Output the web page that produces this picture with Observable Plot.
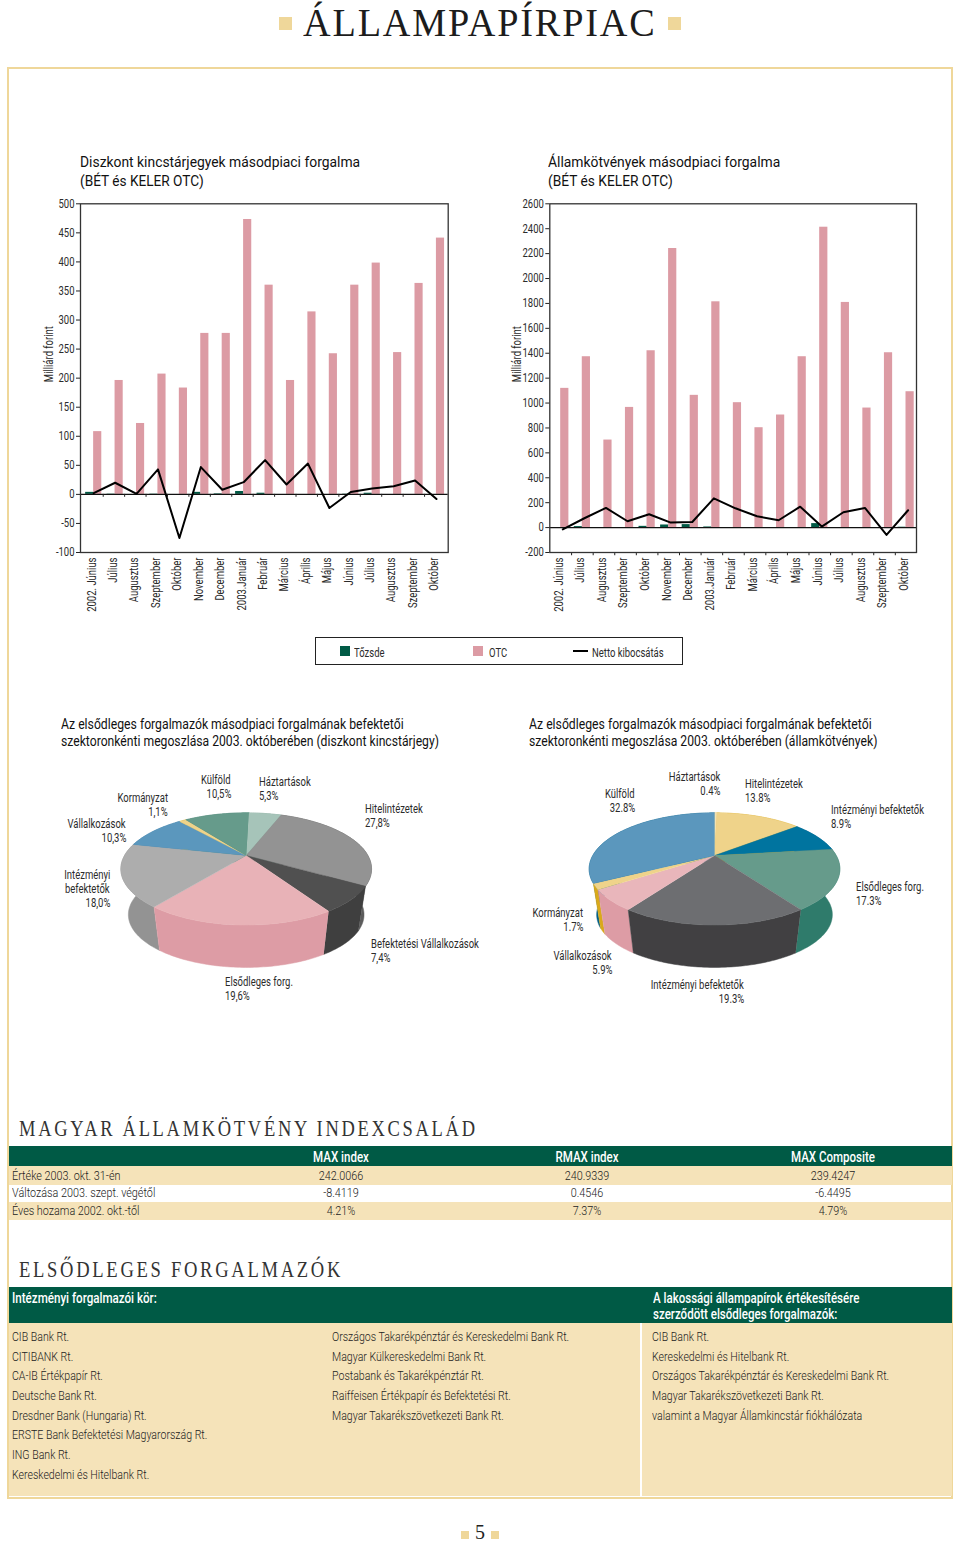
<!DOCTYPE html>
<html><head><meta charset="utf-8">
<script src="https://cdn.jsdelivr.net/npm/d3@7"></script>
<script src="https://cdn.jsdelivr.net/npm/@observablehq/plot@0.6"></script>
<style>
html,body{margin:0;padding:0;background:#fff}
#page{position:relative;width:960px;height:1544px;overflow:hidden;font-family:Roboto,sans-serif;color:#2b2b2b}
#page>*{position:absolute}
.t{white-space:nowrap}
</style></head><body><div id="page"></div>
<script>
// ---------- data ----------
const months=["2002. Június","Július","Augusztus","Szeptember","Október","November","December","2003.Január","Február","Március","Április","Május","Június","Július","Augusztus","Szeptember","Október"];
const dkjOtc=[108,196,122,207,183,277,277,473,360,196,314,242,360,398,244,363,441];
const dkjTozsde=[3.5,.5,0,.5,0,3.5,1,5,2,0,0,0,.5,2,0,0,0];
const dkjNet=[2,20,1,43,-75,47,8,21,59,17,53,-23.5,4,10,14,24,-8];
const bondOtc=[1118,1372,703,965,1420,2241,1062,1813,1003,802,904,1372,2412,1808,960,1404,1091];
const bondTozsde=[0,8,0,0,10,21,24,5,0,0,0,0,32,0,0,0,3];
const bondNet=[-14,75,158,51,107,40,45,235,155,91,59,168,8,123,158,-59,139];
const dkjTicks=[-100,-50,0,50,100,150,200,250,300,350,400,450,500];
const bondTicks=[-200,0,200,400,600,800,1000,1200,1400,1600,1800,2000,2200,2400,2600];

const dkjSliceNames=["Háztartások","Hitelintézetek","Befektetési Vállalkozások","Elsődleges forg.","Intézményi\nbefektetők","Vállalkozások","Kormányzat","Külföld"];
const dkjShares=[5.3,27.8,7.4,19.6,18.0,10.3,1.1,10.5];
const dkjTop=["#a6c4b9","#939393","#505050","#e8b2b7","#adadad","#5b97bd","#efd38a","#669b8b"];
const dkjSide=["#80a598","#5c5c5c","#3f3f3f","#dd9ca5","#939393","#3f7ea6","#d9a91a","#3f7f6d"];
const bondSliceNames=["Háztartások","Hitelintézetek","Intézményi befektetők","Elsődleges forg.","Intézményi befektetők","Vállalkozások","Kormányzat","Külföld"];
const bondShares=[0.4,13.8,8.9,17.3,19.3,5.9,1.7,32.8];
const bondTop=["#f3e3b5","#efd38a","#00749f","#669b8b","#6d6e71","#e9b6bb","#efd38a","#5b97bd"];
const bondSide=["#d9c27a","#d9a91a","#005e88","#2f7b6b","#414042","#dd9ca5","#d9a91a","#005e88"];

const indexCols=["MAX index","RMAX index","MAX Composite"];
const indexRows=["Értéke 2003. okt. 31-én","Változása 2003. szept. végétől","Éves hozama 2002. okt.-től"];
const indexMax=["242.0066","-8.4119","4.21%"];
const indexRmax=["240.9339","0.4546","7.37%"];
const indexComp=["239.4247","-6.4495","4.79%"];
const dealers1=["CIB Bank Rt.","CITIBANK  Rt.","CA-IB Értékpapír Rt.","Deutsche Bank Rt.","Dresdner Bank (Hungaria) Rt.","ERSTE Bank Befektetési Magyarország Rt.","ING Bank Rt.","Kereskedelmi és Hitelbank Rt."];
const dealers2=["Országos Takarékpénztár és Kereskedelmi Bank Rt.","Magyar Külkereskedelmi Bank Rt.","Postabank és Takarékpénztár Rt.","Raiffeisen Értékpapír és Befektetési Rt.","Magyar Takarékszövetkezeti Bank Rt."];
const dealers3=["CIB Bank Rt.","Kereskedelmi és Hitelbank Rt.","Országos Takarékpénztár és Kereskedelmi Bank Rt.","Magyar Takarékszövetkezeti Bank Rt.","valamint a Magyar Államkincstár fiókhálózata"];

// ---------- helpers ----------
const page=document.getElementById("page");
const GREEN="#005a45",BEIGE="#f5e3b9",GOLD="#efd79a",PINK="#dc9ba4",SANS='Roboto,sans-serif',SERIF='"Liberation Serif",serif',SQUEEZE=.79,BODY="#222";
function box(x,y,w,h,bg,extra={}){const d=document.createElement("div");Object.assign(d.style,{left:x+"px",top:y+"px",width:w+"px",height:h+"px",background:bg,boxSizing:"border-box"},extra);page.append(d);return d}
const fits=[];
function txt(s,x,y,o={}){ // y is the vertical centre of the line
  const d=document.createElement("div");d.className="t";d.textContent=s;
  const size=o.size||12,h=o.h||Math.ceil(size*1.3);
  Object.assign(d.style,{top:(y-h/2)+"px",height:h+"px",lineHeight:h+"px",fontSize:size+"px",color:o.color||"#2b2b2b",fontFamily:o.font||SANS,letterSpacing:o.ls||"normal",fontWeight:o.weight||"normal"});
  const k=o.scale||SQUEEZE;
  if(o.anchor==="end"){d.style.right=(960-x)+"px";d.style.transformOrigin="right center";d.style.transform=`scaleX(${k})`}
  else if(o.anchor==="middle"){d.style.left=x+"px";d.style.transformOrigin="center";d.style.transform=`translateX(-50%) scaleX(${k})`}
  else{d.style.left=x+"px";d.style.transformOrigin="left center";d.style.transform=`scaleX(${k})`}
  page.append(d);if(o.w)fits.push([d,o.w]);return d}
function squeezeSvg(svg){svg.querySelectorAll("text").forEach(t=>{const n=t.getComputedTextLength();if(n>0){t.setAttribute("textLength",n*SQUEEZE);t.setAttribute("lengthAdjust","spacingAndGlyphs")}})}

// ---------- page furniture ----------
box(279,17,13,13,GOLD);box(668,17,13,13,GOLD);
txt("ÁLLAMPAPÍRPIAC",303,22,{font:SERIF,size:41,ls:"2px",w:354,color:"#1c1c1c"});
box(7,67,946,1432,"transparent",{border:"2px solid "+GOLD});

// ---------- bar charts ----------
function barChart({left,width,mLeft,mRight,range,otc,tozsde,net,domain,ticks,lineDx,tickDx,tickY1,tickY2,labelDx}){
  const rows=months.map((m,i)=>({i,m,otc:otc[i],tozsde:tozsde[i],net:net[i]}));
  const edges=d3.range(16);
  const plot=Plot.plot({
    width,height:430,marginLeft:mLeft,marginRight:mRight,marginTop:13.3,marginBottom:68,
    style:{fontFamily:SANS,fontSize:"12px",background:"transparent",color:"#2b2b2b",overflow:"visible"},
    x:{type:"band",domain:d3.range(17),range,paddingInner:.62,paddingOuter:.31,round:false},
    y:{domain},
    marks:[
      Plot.barY(rows,{x:"i",y:"tozsde",dx:-4,fill:GREEN}),
      Plot.barY(rows,{x:"i",y:"otc",dx:4,fill:PINK}),
      Plot.ruleY([0],{stroke:"#111",strokeWidth:1.2}),
      Plot.ruleX(edges,{x:d=>d,y1:tickY1,y2:tickY2,dx:tickDx,stroke:"#222",strokeWidth:1}),
      Plot.line(rows,{x:"i",y:"net",dx:lineDx,stroke:"#000",strokeWidth:2,curve:"linear"}),
      Plot.frame({stroke:"#333",strokeWidth:1.3}),
      Plot.axisY({ticks,tickSize:4,tickPadding:2,tickFormat:d=>String(d),label:null,fontSize:12,stroke:"#222"}),
      Plot.axisX({anchor:"bottom",tickSize:0,tickRotate:-90,tickPadding:5,tickFormat:i=>months[i],label:null,fontSize:12,dx:-2}),
      Plot.text(["Milliárd forint"],{frameAnchor:"left",rotate:-90,dx:labelDx,dy:4,fontSize:12,fill:"#2b2b2b"})
    ]});
  Object.assign(plot.style,{position:"absolute",left:left+"px",top:"190px"});
  page.append(plot);squeezeSvg(plot);
}
barChart({left:30,width:430,mLeft:50,mRight:12.3,range:[52.5,416.7],otc:dkjOtc,tozsde:dkjTozsde,net:dkjNet,domain:[-100,500],ticks:dkjTicks,lineDx:0,tickDx:9.5,tickY1:0,tickY2:-5,labelDx:-31});
barChart({left:500,width:430,mLeft:49.3,mRight:14,range:[49.5,416.4],otc:bondOtc,tozsde:bondTozsde,net:bondNet,domain:[-200,2600],ticks:bondTicks,lineDx:2,tickDx:10.8,tickY1:-200,tickY2:-226,labelDx:-33});

txt("Diszkont kincstárjegyek másodpiaci forgalma",80,162,{size:15.5,w:280,color:"#111"});
txt("(BÉT és KELER OTC)",80,181,{size:15.5,w:124,color:"#111"});
txt("Államkötvények másodpiaci forgalma",548,162,{size:15.5,w:232,color:"#111"});
txt("(BÉT és KELER OTC)",548,181,{size:15.5,w:125,color:"#111"});

// ---------- legend ----------
box(315,637,368,28,"transparent",{border:"1.5px solid #222"});
box(340,646,10,10,GREEN);txt("Tőzsde",354,652.5,{size:12});
box(473,646,10,10,PINK);txt("OTC",489,652.5,{size:12});
box(573,650,15,2,"#000");txt("Netto kibocsátás",592,652.5,{size:12});

// ---------- section heads for pies ----------
txt("Az elsődleges forgalmazók másodpiaci forgalmának befektetői",61,724,{size:14,w:343,color:"#111"});
txt("szektoronkénti megoszlása 2003. októberében (diszkont kincstárjegy)",61,741,{size:14,w:378,color:"#111"});
txt("Az elsődleges forgalmazók másodpiaci forgalmának befektetői",529,724,{size:14,w:343,color:"#111"});
txt("szektoronkénti megoszlása 2003. októberében (államkötvények)",529,741,{size:14,w:348,color:"#111"});

// ---------- pies: every slice angle comes from its share; the view is a perspective tilt ----------
function pie({left,apexX,shares,tops,sides,start}){
  const A=121.7,B=52.9,K=.24,DROP=46.5,S=.94,top=765,W=440,H=245,apexY=855;
  const total=d3.sum(shares);
  const p=(a,s,d)=>{const u=Math.sin(a),v=Math.cos(a),w=1+K*v;return{x:s*A*u/w,y:-s*B*v/w+d}};
  let acc=start*Math.PI/180;const arcs=shares.map((v,i)=>{const a0=acc;acc+=v/total*2*Math.PI;return{i,a0,a1:acc}});
  const samples=(a0,a1)=>{const n=Math.max(2,Math.ceil((a1-a0)/.02));return d3.range(n+1).map(j=>a0+(a1-a0)*j/n)};
  const sidePts=[],topPts=[];
  [...arcs].sort((a,b)=>Math.cos((b.a0+b.a1)/2)<Math.cos((a.a0+a.a1)/2)?-1:1).forEach(({i,a0,a1})=>{
    const as=samples(a0,a1);
    as.forEach(a=>sidePts.push({...p(a,1,0),key:"s"+i,c:sides[i]}));
    [...as].reverse().forEach(a=>sidePts.push({...p(a,S,DROP),key:"s"+i,c:sides[i]}));
  });
  arcs.forEach(({i,a0,a1})=>{
    topPts.push({x:0,y:0,key:"t"+i,c:tops[i]});
    samples(a0,a1).forEach(a=>topPts.push({...p(a,1,0),key:"t"+i,c:tops[i]}));
  });
  const cx=apexX-left,cy=apexY-top;
  const plot=Plot.plot({width:W,height:H,margin:0,x:{axis:null,domain:[-cx,W-cx],range:[0,W]},y:{axis:null,domain:[-cy,H-cy],range:[0,H]},color:{type:"identity"},
    style:{background:"transparent"},
    marks:[
      Plot.line(sidePts,{x:"x",y:"y",z:"key",fill:"c",stroke:"c",strokeWidth:.5,curve:"linear"}),
      Plot.line(topPts,{x:"x",y:"y",z:"key",fill:"c",stroke:"c",strokeWidth:.4,curve:"linear"})
    ]});
  Object.assign(plot.style,{position:"absolute",left:left+"px",top:top+"px"});
  page.append(plot);
}
pie({left:50,apexX:245.7,shares:dkjShares,tops:dkjTop,sides:dkjSide,start:1.5});
pie({left:520,apexX:714,shares:bondShares,tops:bondTop,sides:bondSide,start:0});

// pie labels
const fmtC=v=>v.toFixed(1).replace(".",",")+"%",fmtD=v=>v.toFixed(1)+"%";
function pieLabel(names,shares,fmt,i,x,ys,anchor){
  const lines=names[i].split("\n").concat(fmt(shares[i]));
  lines.forEach((l,j)=>txt(l,x,ys+j*14,{size:12,anchor}));
}
[[0,259,782,"start"],[1,365,809,"start"],[2,371,944,"start"],[3,225,982,"start"],[4,110,875,"end"],[5,126,824,"end"],[6,168,798,"end"],[7,231,780,"end"]]
 .forEach(([i,x,y,a])=>pieLabel(dkjSliceNames,dkjShares,fmtC,i,x,y,a));
[[0,720,777,"end"],[1,745,784,"start"],[2,831,810,"start"],[3,856,887,"start"],[4,744,985,"end"],[5,612,956,"end"],[6,583,913,"end"],[7,635,794,"end"]]
 .forEach(([i,x,y,a])=>pieLabel(bondSliceNames,bondShares,fmtD,i,x,y,a));

// ---------- index table ----------
txt("MAGYAR ÁLLAMKÖTVÉNY INDEXCSALÁD",19,1127.5,{font:SERIF,size:24,ls:"3.5px",w:459,color:"#333"});
box(9,1146,943,20,GREEN);box(9,1166,943,18.5,BEIGE);box(9,1202,943,17.5,BEIGE);
const colX=[341,587,833];
indexCols.forEach((c,i)=>txt(c,colX[i],1157,{size:14.6,anchor:"middle",color:"#fff",weight:500}));
const rowY=[1175,1192,1210];
indexRows.forEach((r,i)=>{
  txt(r,12,rowY[i],{size:13.7,color:BODY,weight:300});
  [indexMax,indexRmax,indexComp].forEach((col,j)=>txt(col[i],colX[j],rowY[i],{size:13.7,anchor:"middle",color:BODY,weight:300}));
});

// ---------- dealers ----------
txt("ELSŐDLEGES FORGALMAZÓK",19,1268.5,{font:SERIF,size:24,ls:"3.5px",w:324,color:"#333"});
box(9,1287,943,36,GREEN);box(9,1323,943,173,BEIGE);box(640,1323,2,173,"#fff");
txt("Intézményi forgalmazói kör:",12,1298,{size:14.7,color:"#fff",weight:500});
txt("A lakossági állampapírok értékesítésére",653,1298,{size:14.6,color:"#fff",weight:500});
txt("szerződött elsődleges forgalmazók:",653,1314,{size:14.6,color:"#fff",weight:500});
const listY=[1337,1357,1376,1396,1416,1435,1455,1475];
[[dealers1,12],[dealers2,332],[dealers3,652]].forEach(([l,x])=>l.forEach((s,i)=>txt(s,x,listY[i],{size:13.4,color:BODY,weight:300})));

// ---------- folio ----------
box(461,1531,8,8,GOLD);box(491,1531,8,8,GOLD);
txt("5",480,1532,{font:SERIF,size:20,h:20,anchor:"middle",color:"#222",scale:1});

// fit widths
fits.forEach(([d,w])=>{const c=d.offsetWidth;d.style.transform=`scaleX(${w/c})`});
</script></body></html>
